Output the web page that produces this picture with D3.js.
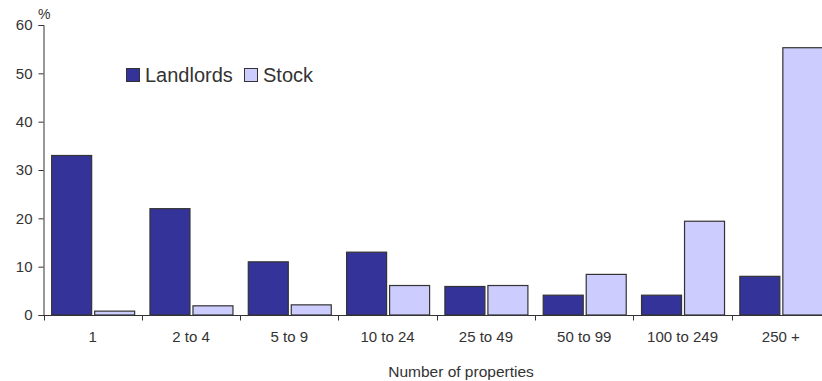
<!DOCTYPE html>
<html>
<head>
<meta charset="utf-8">
<script src="https://cdn.jsdelivr.net/npm/d3@7/dist/d3.min.js"></script>
<style>
  html, body { margin: 0; padding: 0; background: #fff; }
  svg { display: block; font-family: "Liberation Sans", Arial, sans-serif; }
</style>
</head>
<body>
<svg id="chart" width="822" height="381"></svg>
<script>
// Share of landlords and of stock by portfolio size
const categories = ["1", "2 to 4", "5 to 9", "10 to 24", "25 to 49", "50 to 99", "100 to 249", "250 +"];
const landlords = [33, 22, 11, 13, 5.9, 4.1, 4.1, 8];
const stock = [0.8, 1.9, 2.1, 6.1, 6.1, 8.4, 19.4, 55.3];
const seriesNames = ["Landlords", "Stock"];
const yTicks = [0, 10, 20, 30, 40, 50, 60];

const colors = { Landlords: "#333399", Stock: "#ccccff" };
const textColor = "#333";

const svg = d3.select("#chart");

const x = d3.scaleBand().domain(categories).range([43.5, 830]).paddingInner(0).paddingOuter(0);
const y = d3.scaleLinear().domain([0, 60]).range([315, 25]);

const barW = 40, gap = 3;
const groupW = barW * 2 + gap;

// Bars
const rows = categories.map((c, i) => ({ cat: c, values: [landlords[i], stock[i]] }));
const groups = svg.append("g").selectAll("g").data(rows).join("g")
  .attr("transform", d => `translate(${x(d.cat) + (x.bandwidth() - groupW) / 2 + 0.5},0)`);

groups.selectAll("rect")
  .data(d => d.values.map((v, j) => ({ v, name: seriesNames[j], j })))
  .join("rect")
  .attr("x", d => d.j * (barW + gap))
  .attr("y", d => y(d.v))
  .attr("width", barW)
  .attr("height", d => y(0) - y(d.v))
  .attr("fill", d => colors[d.name])
  .attr("stroke", "#333")
  .attr("stroke-width", 1.2);

// Y axis
const yAxis = d3.axisLeft(y).tickValues(yTicks).tickSize(5).tickPadding(6);
const gy = svg.append("g").attr("transform", "translate(43.5,0)").call(yAxis);
gy.select(".domain").attr("stroke", "#333");
gy.selectAll(".tick line").attr("stroke", "#333");
gy.selectAll(".tick text").attr("fill", textColor).style("font-size", "15px");

// X axis with boundary ticks between categories
const gx = svg.append("g").attr("transform", "translate(0,315.5)");
gx.append("line").attr("x1", 43.5).attr("x2", 830).attr("stroke", "#333");
const bounds = categories.map(c => x(c)).concat([x.range()[1]]);
gx.selectAll("line.b").data(bounds).join("line").attr("class", "b")
  .attr("x1", d => Math.round(d) + 0.5).attr("x2", d => Math.round(d) + 0.5)
  .attr("y1", 0).attr("y2", 5).attr("stroke", "#333");
gx.selectAll("text").data(categories).join("text")
  .attr("x", d => x(d) + x.bandwidth() / 2)
  .attr("y", 26.5)
  .attr("text-anchor", "middle")
  .attr("fill", textColor)
  .style("font-size", "15px")
  .text(d => d);

// Axis titles
svg.append("text").attr("x", 38).attr("y", 19).attr("fill", textColor)
  .style("font-size", "14px").text("%");
svg.append("text").attr("x", 461).attr("y", 377).attr("text-anchor", "middle")
  .attr("fill", textColor).style("font-size", "15.5px").text("Number of properties");

// Legend
const legend = svg.append("g");
const legendPos = [{ name: "Landlords", x: 126 }, { name: "Stock", x: 244 }];
legendPos.forEach(p => {
  legend.append("rect").attr("x", p.x + 0.5).attr("y", 68.5).attr("width", 13).attr("height", 13)
    .attr("fill", colors[p.name]).attr("stroke", "#333").attr("stroke-width", 1);
  legend.append("text").attr("x", p.x + 19).attr("y", 82).attr("fill", textColor)
    .style("font-size", "20px").text(p.name);
});
</script>
</body>
</html>
